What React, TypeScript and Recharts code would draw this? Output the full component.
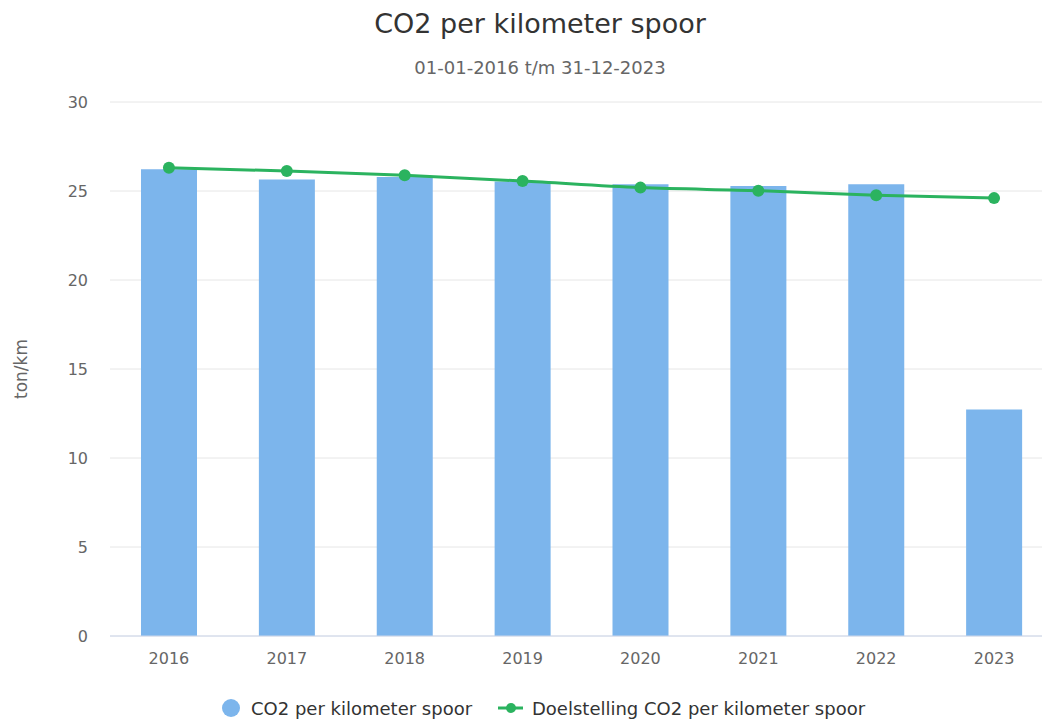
import React from 'react';
import { ComposedChart, Bar, Line, XAxis, YAxis, CartesianGrid } from 'recharts';

const years = ['2016', '2017', '2018', '2019', '2020', '2021', '2022', '2023'];
const co2PerKm = [26.22, 25.64, 25.79, 25.54, 25.38, 25.28, 25.38, 12.72];
const target = [26.31, 26.12, 25.88, 25.56, 25.19, 25.02, 24.76, 24.6];
const yTicks = [0, 5, 10, 15, 20, 25, 30];

const data = years.map((year, i) => ({ year, co2: co2PerKm[i], target: target[i] }));

const FONT = '"DejaVu Sans", Verdana, sans-serif';
const BAR_COLOR = '#7cb5ec';
const LINE_COLOR = '#2bb35f';

export default function App() {
  return (
    <div
      style={{
        position: 'fixed',
        left: 0,
        top: 0,
        width: 1042,
        height: 720,
        overflow: 'hidden',
        background: '#fff',
        fontFamily: FONT,
      }}
    >
      <div style={{ position: 'relative', width: 1080, height: 720 }}>
        <ComposedChart
          width={1080}
          height={720}
          data={data}
          margin={{ top: 102, right: 27, bottom: 54, left: 0 }}
        >
          <CartesianGrid vertical={false} stroke="#e6e6e6" />
          <XAxis
            dataKey="year"
            height={30}
            tickLine={false}
            tickSize={0}
            tickMargin={17}
            axisLine={{ stroke: '#ccd6eb' }}
            tick={{ fill: '#666', fontSize: 16, fontFamily: FONT }}
          />
          <YAxis
            width={110}
            domain={[0, 30]}
            ticks={yTicks}
            axisLine={false}
            tickLine={false}
            tickSize={0}
            tickMargin={22}
            tick={{ fill: '#666', fontSize: 16, fontFamily: FONT }}
          />
          <Bar dataKey="co2" fill={BAR_COLOR} barSize={56} isAnimationActive={false} />
          <Line
            type="monotone"
            dataKey="target"
            stroke={LINE_COLOR}
            strokeWidth={3}
            dot={{ r: 6, fill: LINE_COLOR, stroke: LINE_COLOR, strokeWidth: 0 }}
            activeDot={false}
            isAnimationActive={false}
          />
        </ComposedChart>
        <svg
          width={1080}
          height={720}
          style={{ position: 'absolute', left: 0, top: 0, pointerEvents: 'none' }}
        >
          <text x={540} y={32.5} textAnchor="middle" fontSize={27} fill="#333" fontFamily={FONT}>
            CO2 per kilometer spoor
          </text>
          <text x={540} y={74} textAnchor="middle" fontSize={18} fill="#666" fontFamily={FONT}>
            01-01-2016 t/m 31-12-2023
          </text>
          <text
            transform="translate(27,369) rotate(-90)"
            textAnchor="middle"
            fontSize={17}
            fill="#666"
            fontFamily={FONT}
          >
            ton/km
          </text>
          <circle cx={231} cy={708} r={9} fill={BAR_COLOR} />
          <text x={251} y={715} fontSize={18} fill="#333" fontFamily={FONT}>
            CO2 per kilometer spoor
          </text>
          <line x1={498} y1={708} x2={523} y2={708} stroke={LINE_COLOR} strokeWidth={3} />
          <circle cx={511} cy={708} r={5} fill={LINE_COLOR} />
          <text x={532} y={715} fontSize={18} fill="#333" fontFamily={FONT}>
            Doelstelling CO2 per kilometer spoor
          </text>
        </svg>
      </div>
    </div>
  );
}
